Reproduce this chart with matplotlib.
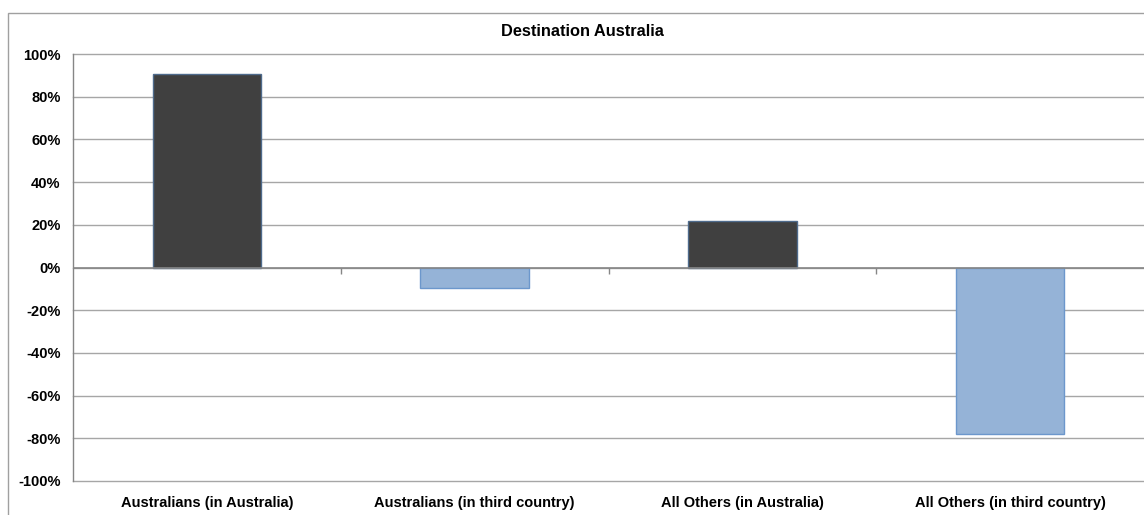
import matplotlib

matplotlib.use("Agg")
import matplotlib.pyplot as plt
import numpy as np
from matplotlib.patches import Rectangle
from matplotlib.ticker import FuncFormatter

plt.rcParams["font.family"] = ["Liberation Sans", "DejaVu Sans"]
plt.rcParams["font.weight"] = "bold"

categories = [
    "Australians (in Australia)",
    "Australians (in third country)",
    "All Others (in Australia)",
    "All Others (in third country)",
]
values = [0.905, -0.095, 0.22, -0.78]
yticks = np.arange(-1.0, 1.01, 0.2)

GRID = "#a6a6a6"
DARK, DARK_EDGE = "#404040", "#4f6b8c"
LIGHT, LIGHT_EDGE = "#95b3d7", "#6c97cc"

fig = plt.figure(figsize=(11.44, 5.15), dpi=100)
# outer chart frame (runs off the right and bottom edges)
fig.patches.append(Rectangle((8 / 1144, -0.1), 1.2, 1 - 13 / 515 + 0.1,
                             transform=fig.transFigure, fill=False,
                             edgecolor="#a0a0a0", linewidth=1.0))

ax = fig.add_axes([73 / 1144, 1 - 481 / 515, 1 - 73 / 1144, (481 - 54) / 515])

x = np.arange(len(categories))
fills = [DARK if v >= 0 else LIGHT for v in values]
edges = [DARK_EDGE if v >= 0 else LIGHT_EDGE for v in values]
ax.bar(x, values, width=0.405, color=fills, edgecolor=edges, linewidth=1.0, zorder=3)

ax.set_xlim(-0.5, len(categories) - 0.5)
ax.set_ylim(-1.0, 1.0)
ax.set_yticks(yticks)
ax.yaxis.set_major_formatter(FuncFormatter(lambda v, _: f"{round(v * 100) + 0:d}%"))
for y in yticks:
    ax.axhline(y, color=GRID, linewidth=1.0, zorder=0, clip_on=False)
ax.tick_params(axis="y", length=0, pad=9, labelsize=10.5)

ax.set_xticks(x)
ax.set_xticklabels(categories, fontsize=10.5, fontweight="bold")
ax.tick_params(axis="x", length=0, pad=11)

# category axis sits at zero, with tick marks between categories
ax.axhline(0, color="#868686", linewidth=1.2, zorder=4)
ax.vlines(x[:-1] + 0.5, -0.03, 0, color="#868686", linewidth=1.0, zorder=4)

for side in ("top", "right", "bottom"):
    ax.spines[side].set_visible(False)
ax.spines["left"].set_color("#868686")
ax.spines["left"].set_linewidth(1.0)

# title is centred on the chart frame, not the plot area
fig.text(582 / 1144, 1 - 31 / 515, "Destination Australia", fontsize=11.8,
         fontweight="bold", ha="center", va="center")

fig.savefig("out.png", dpi=100)
